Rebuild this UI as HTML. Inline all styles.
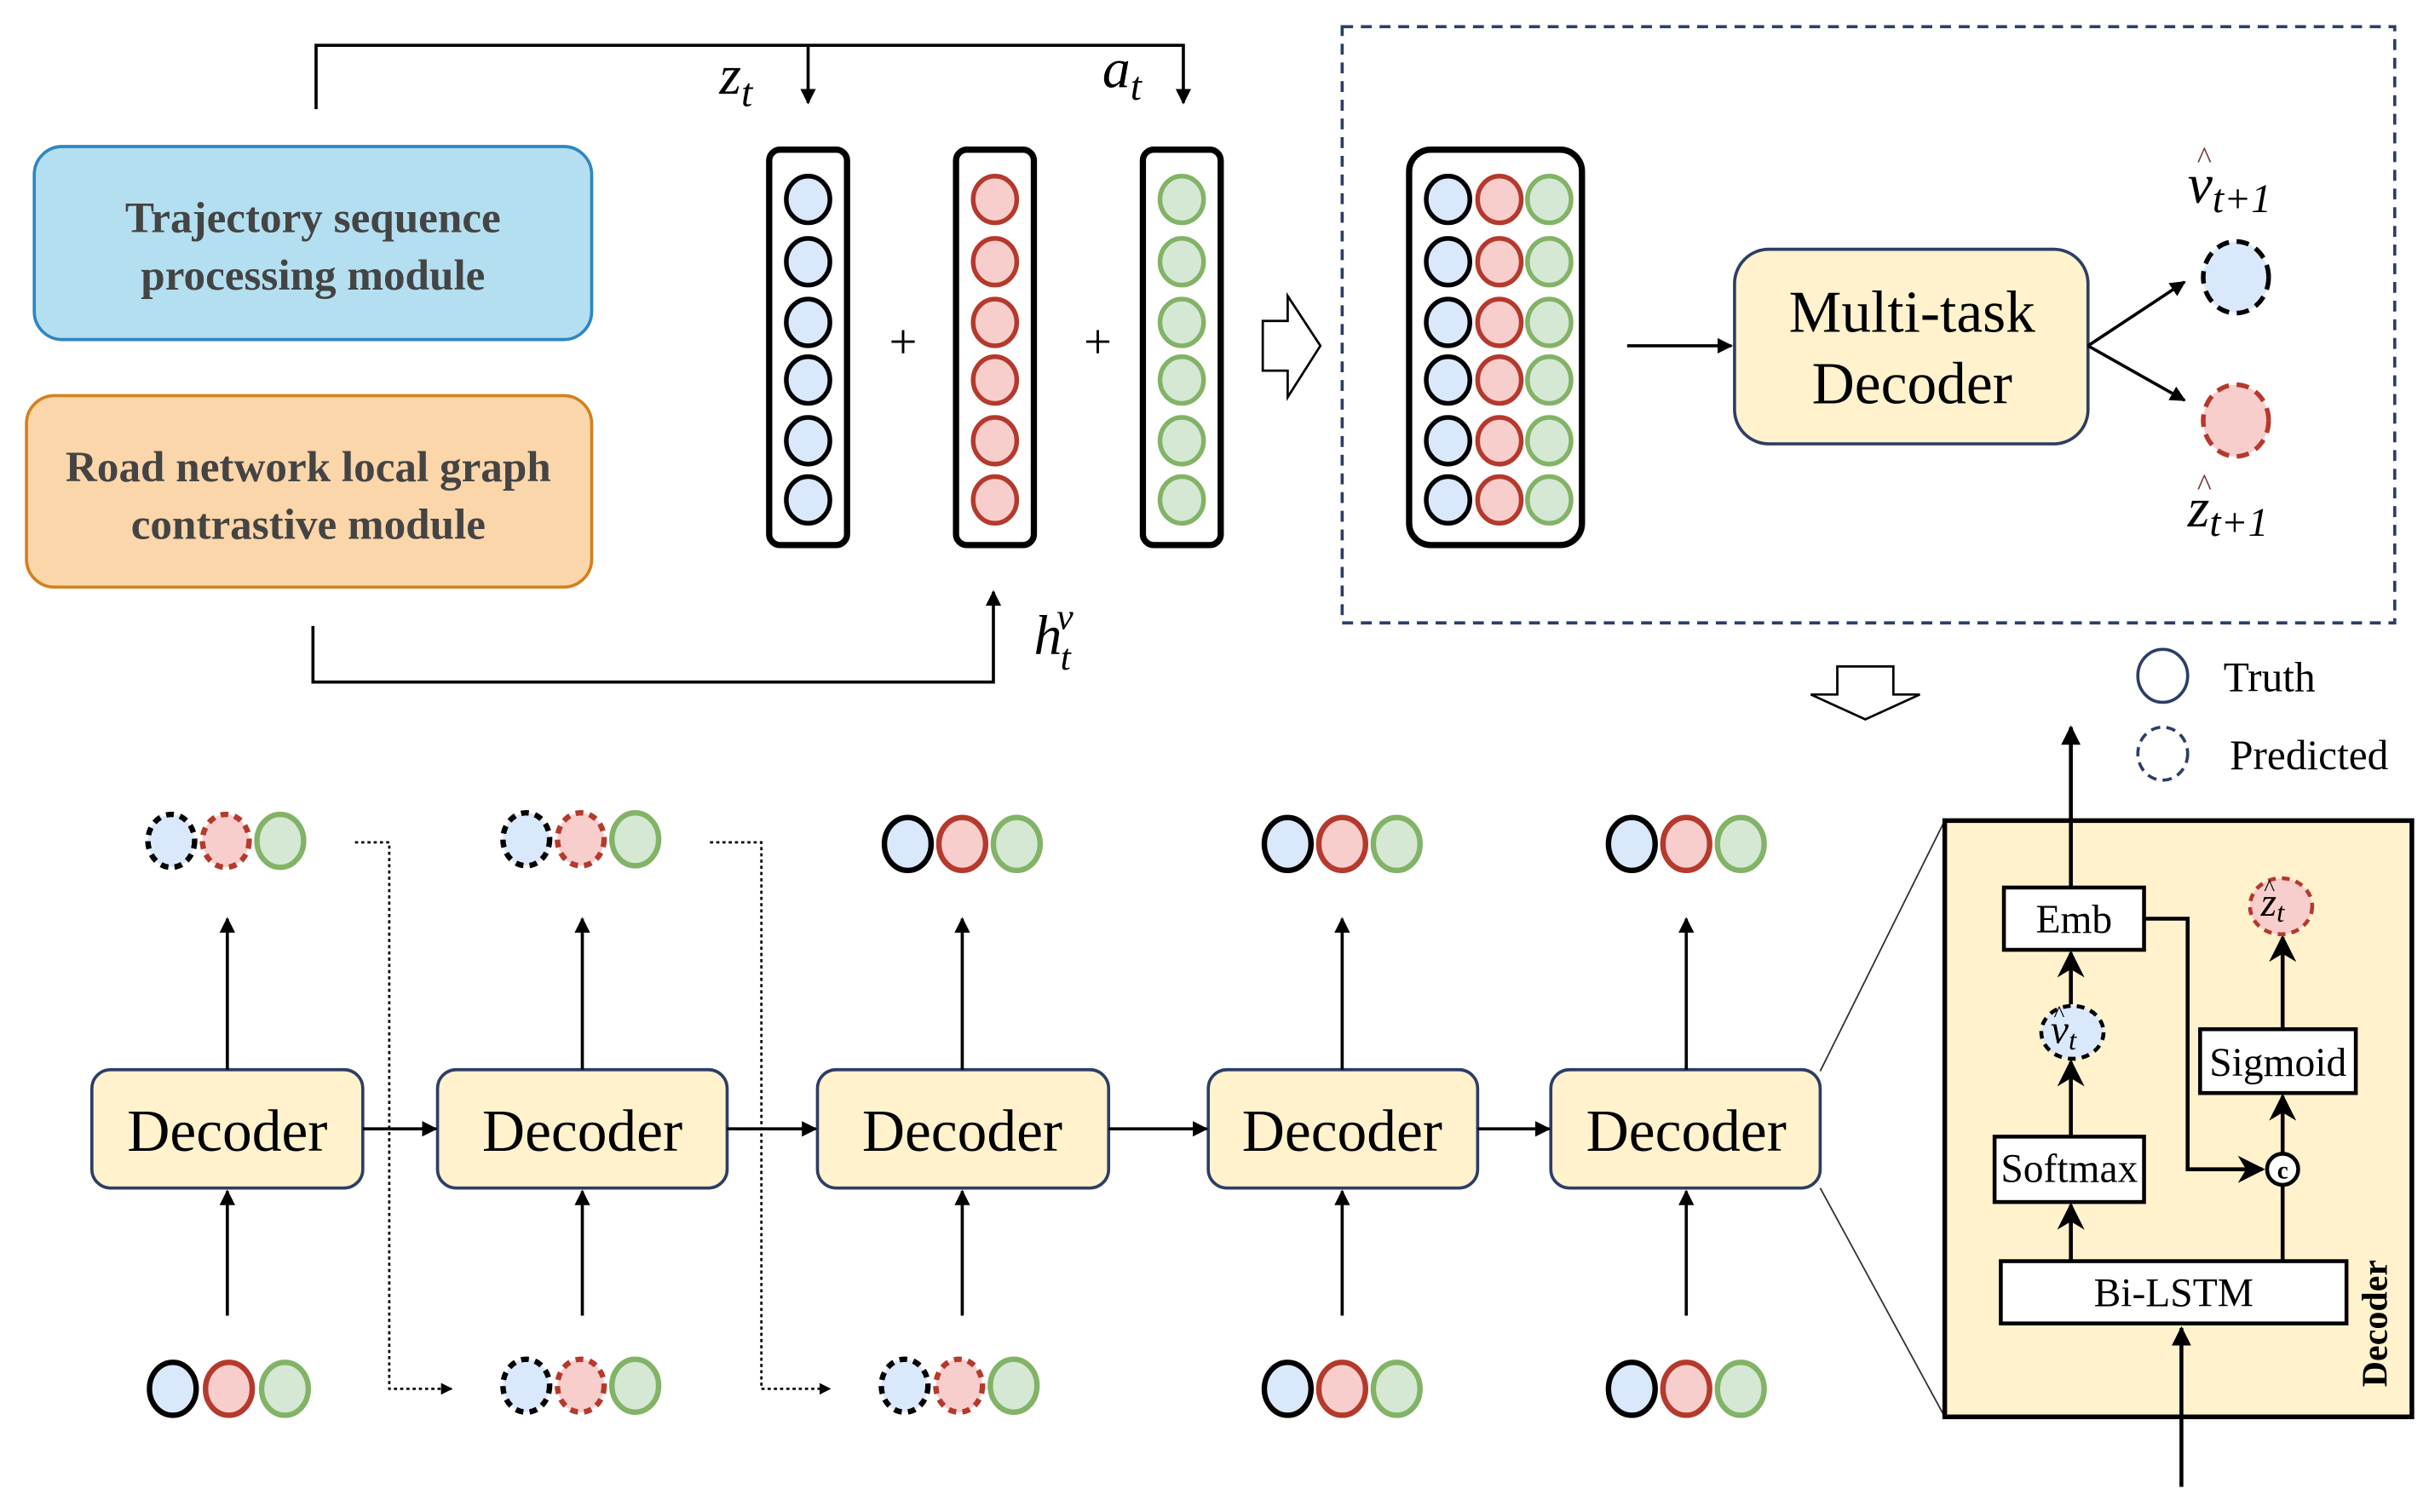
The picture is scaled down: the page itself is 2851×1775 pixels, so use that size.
<!DOCTYPE html>
<html><head><meta charset="utf-8"><style>html,body{margin:0;padding:0;background:#fff}svg{display:block}svg text{font-family:"Liberation Serif","Times New Roman",serif}.m{font-style:italic}</style></head>
<body>
<svg width="2851" height="1775" viewBox="0 0 1560 971" xmlns="http://www.w3.org/2000/svg">
<defs>
<marker id="a" viewBox="0 0 10 10" refX="9" refY="5" markerWidth="5" markerHeight="5" orient="auto"><path d="M0,0 L10,5 L0,10 z" fill="#000"/></marker>
<marker id="b" viewBox="0 0 10 10" refX="9" refY="5" markerWidth="7" markerHeight="7" orient="auto"><path d="M0,0 L10,5 L0,10 L3,5 z" fill="#000"/></marker>
</defs>
<g stroke="#000" stroke-width="2" fill="none">
<polyline points="203,70 203,29 760,29 760,66" marker-end="url(#a)"/>
<line x1="519" y1="29" x2="519" y2="66" marker-end="url(#a)"/>
<polyline points="201,402 201,438 638,438 638,380" marker-end="url(#a)"/>
</g>
<text class="m" x="462" y="60" font-size="36">z<tspan font-size="26" dy="8">t</tspan></text>
<text class="m" x="708" y="56" font-size="36">a<tspan font-size="26" dy="8">t</tspan></text>
<text class="m" x="664" y="420" font-size="36">h<tspan font-size="24" dx="-1" dy="10">t</tspan><tspan font-size="24" dx="-9" dy="-26">v</tspan></text>
<rect x="22" y="94" width="358" height="124" rx="18" fill="#b3dff0" stroke="#2e86c1" stroke-width="2"/>
<text x="201" y="149" font-size="28" font-weight="bold" fill="#444" text-anchor="middle">Trajectory sequence</text>
<text x="201" y="186" font-size="28" font-weight="bold" fill="#444" text-anchor="middle">processing module</text>
<rect x="17" y="254" width="363" height="123" rx="18" fill="#fbd6aa" stroke="#d4801e" stroke-width="2"/>
<text x="198" y="309" font-size="28" font-weight="bold" fill="#444" text-anchor="middle">Road network local graph</text>
<text x="198" y="346" font-size="28" font-weight="bold" fill="#444" text-anchor="middle">contrastive module</text>
<g stroke="#000" stroke-width="4" fill="none">
<rect x="494" y="96" width="50" height="254" rx="7"/>
<rect x="614" y="96" width="50" height="254" rx="7"/>
<rect x="734" y="96" width="50" height="254" rx="7"/>
<rect x="905" y="96" width="111" height="254" rx="14"/>
</g>
<g stroke-width="3">
<g fill="#dae8fc" stroke="#000">
<ellipse cx="519" cy="128" rx="14" ry="15"/><ellipse cx="519" cy="168" rx="14" ry="15"/><ellipse cx="519" cy="207" rx="14" ry="15"/><ellipse cx="519" cy="244" rx="14" ry="15"/><ellipse cx="519" cy="283" rx="14" ry="15"/><ellipse cx="519" cy="321" rx="14" ry="15"/>
<ellipse cx="930" cy="128" rx="14" ry="15"/><ellipse cx="930" cy="168" rx="14" ry="15"/><ellipse cx="930" cy="207" rx="14" ry="15"/><ellipse cx="930" cy="244" rx="14" ry="15"/><ellipse cx="930" cy="283" rx="14" ry="15"/><ellipse cx="930" cy="321" rx="14" ry="15"/>
</g>
<g fill="#f8cecc" stroke="#b5392c">
<ellipse cx="639" cy="128" rx="14" ry="15"/><ellipse cx="639" cy="168" rx="14" ry="15"/><ellipse cx="639" cy="207" rx="14" ry="15"/><ellipse cx="639" cy="244" rx="14" ry="15"/><ellipse cx="639" cy="283" rx="14" ry="15"/><ellipse cx="639" cy="321" rx="14" ry="15"/>
<ellipse cx="963" cy="128" rx="14" ry="15"/><ellipse cx="963" cy="168" rx="14" ry="15"/><ellipse cx="963" cy="207" rx="14" ry="15"/><ellipse cx="963" cy="244" rx="14" ry="15"/><ellipse cx="963" cy="283" rx="14" ry="15"/><ellipse cx="963" cy="321" rx="14" ry="15"/>
</g>
<g fill="#d5e8d4" stroke="#82b366">
<ellipse cx="759" cy="128" rx="14" ry="15"/><ellipse cx="759" cy="168" rx="14" ry="15"/><ellipse cx="759" cy="207" rx="14" ry="15"/><ellipse cx="759" cy="244" rx="14" ry="15"/><ellipse cx="759" cy="283" rx="14" ry="15"/><ellipse cx="759" cy="321" rx="14" ry="15"/>
<ellipse cx="995" cy="128" rx="14" ry="15"/><ellipse cx="995" cy="168" rx="14" ry="15"/><ellipse cx="995" cy="207" rx="14" ry="15"/><ellipse cx="995" cy="244" rx="14" ry="15"/><ellipse cx="995" cy="283" rx="14" ry="15"/><ellipse cx="995" cy="321" rx="14" ry="15"/>
</g>
</g>
<text x="580" y="230" font-size="32" text-anchor="middle">+</text>
<text x="705" y="230" font-size="32" text-anchor="middle">+</text>
<path d="M811,206 L827,206 L827,190 L848,222 L827,255 L827,238 L811,238 z" fill="#fff" stroke="#000" stroke-width="1.5"/>
<path d="M1180,428 L1216,428 L1216,446 L1233,446 L1198,462 L1163,446 L1180,446 z" fill="#fff" stroke="#000" stroke-width="1.5"/>
<rect x="862" y="17" width="676" height="383" fill="none" stroke="#2c3e66" stroke-width="2" stroke-dasharray="7,5"/>
<line x1="1045" y1="222" x2="1112" y2="222" stroke="#000" stroke-width="2" marker-end="url(#a)"/>
<rect x="1114" y="160" width="227" height="125" rx="22" fill="#fff2cc" stroke="#2c3e66" stroke-width="2"/>
<text x="1228" y="213" font-size="38" text-anchor="middle">Multi-task</text>
<text x="1228" y="259" font-size="38" text-anchor="middle">Decoder</text>
<line x1="1341" y1="222" x2="1403" y2="181" stroke="#000" stroke-width="2" marker-end="url(#a)"/>
<line x1="1341" y1="222" x2="1403" y2="257" stroke="#000" stroke-width="2" marker-end="url(#a)"/>
<ellipse cx="1436" cy="178" rx="21" ry="23" fill="#dae8fc" stroke="#000" stroke-width="3" stroke-dasharray="8,5"/>
<ellipse cx="1436" cy="270" rx="21" ry="23" fill="#f8cecc" stroke="#b5392c" stroke-width="3" stroke-dasharray="8,5"/>
<text class="m" x="1405" y="130" font-size="36">v<tspan font-size="26" dy="6">t+1</tspan></text>
<text x="1411" y="108" font-size="20" fill="#6d3b32">^</text>
<text class="m" x="1405" y="338" font-size="36">z<tspan font-size="26" dy="6">t+1</tspan></text>
<text x="1411" y="318" font-size="20" fill="#6d3b32">^</text>
<ellipse cx="1389" cy="434" rx="16" ry="17" fill="none" stroke="#2c3e66" stroke-width="2"/>
<text x="1428" y="444" font-size="27">Truth</text>
<ellipse cx="1389" cy="484" rx="16" ry="17" fill="none" stroke="#2c3e66" stroke-width="2" stroke-dasharray="6,4"/>
<text x="1432" y="494" font-size="27">Predicted</text>
<g fill="#fff2cc" stroke="#2c3e66" stroke-width="2">
<rect x="59" y="687" width="174" height="76" rx="12"/>
<rect x="281" y="687" width="186" height="76" rx="12"/>
<rect x="525" y="687" width="187" height="76" rx="12"/>
<rect x="776" y="687" width="173" height="76" rx="12"/>
<rect x="996" y="687" width="173" height="76" rx="12"/>
</g>
<g font-size="38" text-anchor="middle">
<text x="146" y="739">Decoder</text><text x="374" y="739">Decoder</text><text x="618" y="739">Decoder</text><text x="862" y="739">Decoder</text><text x="1083" y="739">Decoder</text>
</g>
<g stroke="#000" stroke-width="2" marker-end="url(#a)">
<line x1="233" y1="725" x2="280" y2="725"/><line x1="467" y1="725" x2="524" y2="725"/><line x1="712" y1="725" x2="775" y2="725"/><line x1="949" y1="725" x2="995" y2="725"/>
<line x1="146" y1="687" x2="146" y2="590"/><line x1="374" y1="687" x2="374" y2="590"/><line x1="618" y1="687" x2="618" y2="590"/><line x1="862" y1="687" x2="862" y2="590"/><line x1="1083" y1="687" x2="1083" y2="590"/>
<line x1="146" y1="845" x2="146" y2="765"/><line x1="374" y1="845" x2="374" y2="765"/><line x1="618" y1="845" x2="618" y2="765"/><line x1="862" y1="845" x2="862" y2="765"/><line x1="1083" y1="845" x2="1083" y2="765"/>
</g>
<g stroke="#000" stroke-width="1.5" stroke-dasharray="2,2" fill="none" marker-end="url(#a)">
<polyline points="228,541 250,541 250,892 290,892"/>
<polyline points="456,541 489,541 489,892 533,892"/>
</g>
<g stroke-width="3.5">
<ellipse cx="110" cy="540" rx="15" ry="17" fill="#dae8fc" stroke="#000" stroke-dasharray="5,4"/>
<ellipse cx="145" cy="540" rx="15" ry="17" fill="#f8cecc" stroke="#b5392c" stroke-dasharray="5,4"/>
<ellipse cx="180" cy="540" rx="15" ry="17" fill="#d5e8d4" stroke="#82b366"/>
<ellipse cx="338" cy="539" rx="15" ry="17" fill="#dae8fc" stroke="#000" stroke-dasharray="5,4"/>
<ellipse cx="373" cy="539" rx="15" ry="17" fill="#f8cecc" stroke="#b5392c" stroke-dasharray="5,4"/>
<ellipse cx="408" cy="539" rx="15" ry="17" fill="#d5e8d4" stroke="#82b366"/>
<ellipse cx="583" cy="542" rx="15" ry="17" fill="#dae8fc" stroke="#000"/>
<ellipse cx="618" cy="542" rx="15" ry="17" fill="#f8cecc" stroke="#b5392c"/>
<ellipse cx="653" cy="542" rx="15" ry="17" fill="#d5e8d4" stroke="#82b366"/>
<ellipse cx="827" cy="542" rx="15" ry="17" fill="#dae8fc" stroke="#000"/>
<ellipse cx="862" cy="542" rx="15" ry="17" fill="#f8cecc" stroke="#b5392c"/>
<ellipse cx="897" cy="542" rx="15" ry="17" fill="#d5e8d4" stroke="#82b366"/>
<ellipse cx="1048" cy="542" rx="15" ry="17" fill="#dae8fc" stroke="#000"/>
<ellipse cx="1083" cy="542" rx="15" ry="17" fill="#f8cecc" stroke="#b5392c"/>
<ellipse cx="1118" cy="542" rx="15" ry="17" fill="#d5e8d4" stroke="#82b366"/>
<ellipse cx="111" cy="892" rx="15" ry="17" fill="#dae8fc" stroke="#000"/>
<ellipse cx="147" cy="892" rx="15" ry="17" fill="#f8cecc" stroke="#b5392c"/>
<ellipse cx="183" cy="892" rx="15" ry="17" fill="#d5e8d4" stroke="#82b366"/>
<ellipse cx="338" cy="890" rx="15" ry="17" fill="#dae8fc" stroke="#000" stroke-dasharray="5,4"/>
<ellipse cx="373" cy="890" rx="15" ry="17" fill="#f8cecc" stroke="#b5392c" stroke-dasharray="5,4"/>
<ellipse cx="408" cy="890" rx="15" ry="17" fill="#d5e8d4" stroke="#82b366"/>
<ellipse cx="581" cy="890" rx="15" ry="17" fill="#dae8fc" stroke="#000" stroke-dasharray="5,4"/>
<ellipse cx="616" cy="890" rx="15" ry="17" fill="#f8cecc" stroke="#b5392c" stroke-dasharray="5,4"/>
<ellipse cx="651" cy="890" rx="15" ry="17" fill="#d5e8d4" stroke="#82b366"/>
<ellipse cx="827" cy="892" rx="15" ry="17" fill="#dae8fc" stroke="#000"/>
<ellipse cx="862" cy="892" rx="15" ry="17" fill="#f8cecc" stroke="#b5392c"/>
<ellipse cx="897" cy="892" rx="15" ry="17" fill="#d5e8d4" stroke="#82b366"/>
<ellipse cx="1048" cy="892" rx="15" ry="17" fill="#dae8fc" stroke="#000"/>
<ellipse cx="1083" cy="892" rx="15" ry="17" fill="#f8cecc" stroke="#b5392c"/>
<ellipse cx="1118" cy="892" rx="15" ry="17" fill="#d5e8d4" stroke="#82b366"/>
</g>
<line x1="1169" y1="688" x2="1249" y2="527" stroke="#333" stroke-width="1"/>
<line x1="1169" y1="763" x2="1249" y2="910" stroke="#333" stroke-width="1"/>
<rect x="1249" y="527" width="300" height="383" fill="#fff2cc" stroke="#000" stroke-width="3"/>
<g stroke="#000" stroke-width="2.5" fill="none">
<line x1="1330" y1="570" x2="1330" y2="467" marker-end="url(#a)"/>
<line x1="1330" y1="645" x2="1330" y2="612" marker-end="url(#b)"/>
<line x1="1330" y1="730" x2="1330" y2="682" marker-end="url(#b)"/>
<line x1="1330" y1="810" x2="1330" y2="774" marker-end="url(#b)"/>
<line x1="1466" y1="810" x2="1466" y2="762"/>
<polyline points="1377,590 1405,590 1405,751 1453,751" marker-end="url(#b)"/>
<line x1="1466" y1="741" x2="1466" y2="704" marker-end="url(#b)"/>
<line x1="1466" y1="661" x2="1466" y2="602" marker-end="url(#b)"/>
<line x1="1401" y1="955" x2="1401" y2="853" marker-end="url(#a)"/>
</g>
<g fill="#fff" stroke="#000" stroke-width="2.5">
<rect x="1287" y="570" width="90" height="40"/>
<rect x="1281" y="730" width="96" height="42"/>
<rect x="1285" y="810" width="222" height="40"/>
<rect x="1413" y="661" width="100" height="41"/>
<circle cx="1466" cy="751" r="10"/>
</g>
<text x="1466" y="757" font-size="16" text-anchor="middle" font-weight="bold">c</text>
<ellipse cx="1331" cy="663" rx="20" ry="17" fill="#dae8fc" stroke="#000" stroke-width="2.5" stroke-dasharray="5,4"/>
<ellipse cx="1465" cy="582" rx="20" ry="18" fill="#f8cecc" stroke="#b5392c" stroke-dasharray="5,4" stroke-width="2.5"/>
<text class="m" x="1317" y="670" font-size="26">v<tspan font-size="18" dy="4">t</tspan></text>
<text x="1319" y="656" font-size="15">^</text>
<text class="m" x="1452" y="588" font-size="26">z<tspan font-size="18" dy="4">t</tspan></text>
<text x="1454" y="575" font-size="15">^</text>
<text x="1332" y="599" font-size="26" text-anchor="middle">Emb</text>
<text x="1329" y="759" font-size="26" text-anchor="middle">Softmax</text>
<text x="1396" y="839" font-size="26" text-anchor="middle">Bi-LSTM</text>
<text x="1463" y="691" font-size="26" text-anchor="middle">Sigmoid</text>
<text transform="translate(1533,850) rotate(-90)" font-size="23" font-weight="bold" text-anchor="middle">Decoder</text>
</svg>
</body></html>
